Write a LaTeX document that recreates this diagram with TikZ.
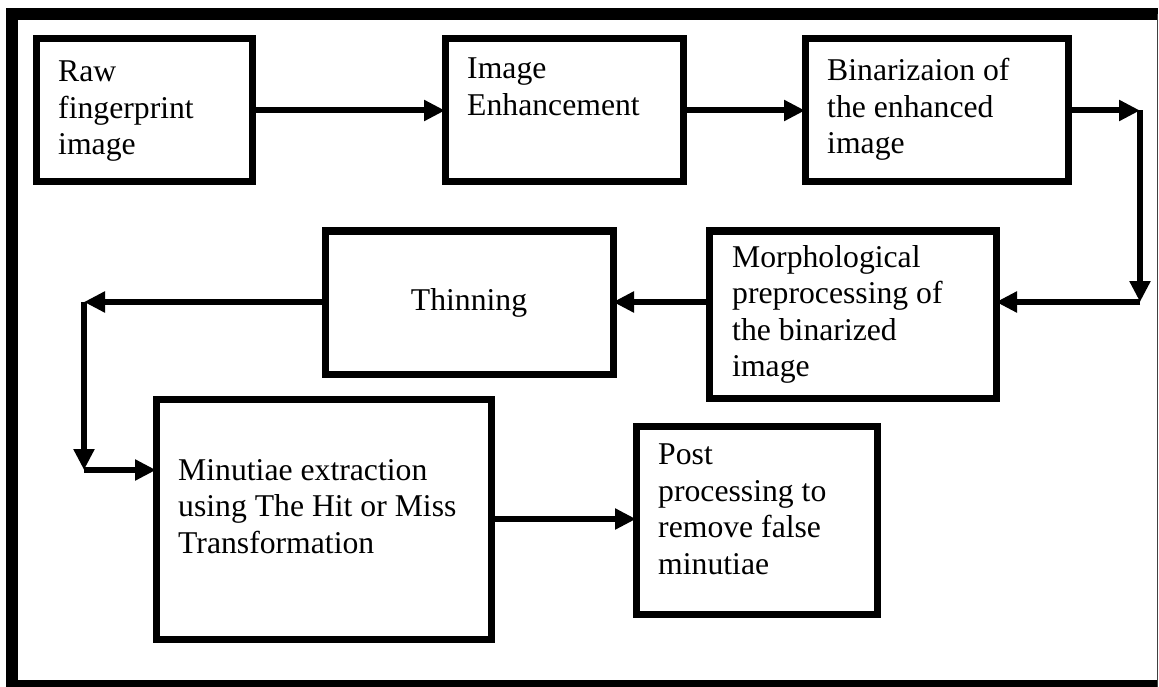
\documentclass[tikz,border=0pt]{standalone}
\usepackage{fontspec}
\setmainfont{Liberation Serif}
\usetikzlibrary{arrows.meta}

\begin{document}
\begin{tikzpicture}[x=1pt,y=-1pt,
  box/.style={draw, line width=7pt, anchor=north west, inner sep=0pt, outer sep=0pt},
  big/.style={font=\fontsize{31.7}{36.5}\selectfont},
  txt/.style={big, anchor=north west, align=left, inner sep=0pt},
  arr/.style={line width=6pt, -{Triangle[length=21pt,width=20pt]}}]
\useasboundingbox (0,0) rectangle (1159,687);
% frame
\draw[line width=12pt] (1158,14) -- (12,14) -- (12,687);
\draw[line width=14pt] (6,687) -- (1158,687);
\draw[line width=1pt, black!75] (1157.5,14) -- (1157.5,687);

%% boxes
\node[box, minimum width=216pt, minimum height=143pt] (raw) at (36,39) {};
\node[box, minimum width=238pt, minimum height=143pt] (enh) at (445,39) {};
\node[box, minimum width=263pt, minimum height=143pt] (bin) at (805,39) {};
\node[box, minimum width=287pt, minimum height=167pt] (morph) at (709,231) {};
\node[box, big, minimum width=288pt, minimum height=143pt] (thin) at (325,231) {Thinning};
\node[box, minimum width=335pt, minimum height=240pt] (minu) at (156,399) {};
\node[box, minimum width=241pt, minimum height=188pt] (post) at (636,426) {};

%% texts
\node[txt] (rawtxt) at ([shift={(22,22)}]raw.north west) {Raw\\fingerprint\\image};
\node[txt] (enhtxt) at ([shift={(22,19)}]enh.north west) {Image\\Enhancement};
\node[txt] (bintxt) at ([shift={(22,19)}]bin.north west) {Binarizaion of\\the enhanced\\image};
\node[txt] (morphtxt) at ([shift={(23,14)}]morph.north west) {Morphological\\preprocessing of\\the binarized\\image};
\node[txt] (minutxt) at ([shift={(22,60)}]minu.north west) {Minutiae extraction\\using The Hit or Miss\\Transformation};
\node[txt] (posttxt) at ([shift={(22,18)}]post.north west) {Post\\processing to\\remove false\\minutiae};

%% corners
\coordinate (rtop) at (1140,110.5);
\coordinate (rbot) at (1140,302);
\coordinate (ltop) at (84,302);
\coordinate (lbot) at (84,470);

%% arrows
\draw[arr] (raw.east) -- (enh.west);
\draw[arr] (enh.east) -- (bin.west);
\draw[arr] (bin.east) -- (rtop);
\draw[arr] (rtop) -- (rbot);
\draw[arr] (rbot) -- (rbot -| morph.east);
\draw[arr] (rbot -| morph.west) -- (rbot -| thin.east);
\draw[arr] (rbot -| thin.west) -- (ltop);
\draw[arr] (ltop) -- (lbot);
\draw[arr] (lbot) -- (lbot -| minu.west);
\draw[arr] (minu.east) -- (minu.east -| post.west);

\end{tikzpicture}
\end{document}
